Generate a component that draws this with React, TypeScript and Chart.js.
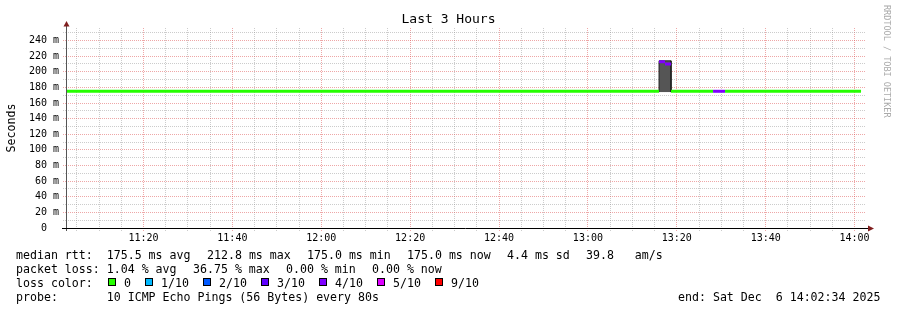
import React, { useEffect, useRef } from "react";
import { Chart, registerables } from "chart.js";

Chart.register(...registerables);

// ---------- texts ----------
const chartTitle = "Last 3 Hours";
const yAxisTitle = "Seconds";
const watermark = "RRDTOOL / TOBI OETIKER";
const legendRttItems = ["median rtt:  175.5 ms avg", "212.8 ms max", "175.0 ms min", "175.0 ms now", "4.4 ms sd", "39.8   am/s"];
const legendLossItems = ["packet loss: 1.04 % avg", "36.75 % max", "0.00 % min", "0.00 % now"];
const legendLossColor = "loss color:";
const legendProbeItems = ["probe:       10 ICMP Echo Pings (56 Bytes) every 80s"];
const legendEnd = "end: Sat Dec  6 14:02:34 2025";

// ---------- axes ----------
const viewStart = "11:02:34";
const viewEnd = "14:02:34";
const yMin = 0;
const yMax = 256; // ms
const yGridStep = 10;
const yLabelStep = 20;
const xGridStepMin = 5;
const xLabelStepMin = 20;

// ---------- loss colours ----------
const lossLabels = ["0", "1/10", "2/10", "3/10", "4/10", "5/10", "9/10"];
const lossColors = ["#26ff00", "#00b8ff", "#0059ff", "#5e00ff", "#7e00ff", "#dd00ff", "#ff0000"];

// ---------- median rtt runs (start time, median ms, loss bin index) ----------
const runStart = ["11:02:34", "13:16:00", "13:17:21", "13:18:42", "13:28:09", "13:30:51"];
const runLastEnd = "14:01:27";
const runMedian = [175.0, 212.8, 209.9, 175.0, 175.0, 175.0];
const runLossBin = [0, 4, 4, 0, 4, 0];

// ---------- smoke (ping spread) ----------
const smokeStart = ["13:16:00", "13:17:21"];
const smokeLastEnd = "13:18:42";
const smokeLow = [174.0, 174.0];
const smokeHigh = [214.0, 214.0];

function toMin(s: string): number {
  const [h, m, sec] = s.split(":").map(Number);
  return h * 60 + m + (sec || 0) / 60;
}
function fmtHM(v: number): string {
  const h = Math.floor(v / 60);
  const m = Math.round(v - h * 60);
  return `${String(h).padStart(2, "0")}:${String(m).padStart(2, "0")}`;
}

const MONO = '"DejaVu Sans Mono", monospace';
const GRID_MINOR = "rgba(143,143,143,0.45)";
const GRID_MAJOR = "rgba(222,79,79,0.5)";
const ARROW = "rgb(128,31,31)";
const CHAR_W = 7;
const ITEM_GAP = 16;

const decorPlugin = {
  id: "rrdDecor",
  afterDraw(chart: any) {
    const ctx = chart.ctx as CanvasRenderingContext2D;
    const a = chart.chartArea;
    ctx.save();
    ctx.strokeStyle = "#555";
    ctx.lineWidth = 1;
    ctx.beginPath();
    ctx.moveTo(a.left + 0.5, a.bottom + 3);
    ctx.lineTo(a.left + 0.5, a.top - 2);
    ctx.stroke();
    ctx.strokeStyle = "#000";
    ctx.beginPath();
    ctx.moveTo(a.left - 4, a.bottom + 0.5);
    ctx.lineTo(a.right + 3, a.bottom + 0.5);
    ctx.stroke();
    ctx.fillStyle = ARROW;
    ctx.beginPath();
    ctx.moveTo(a.left - 2.5, a.top - 1.5);
    ctx.lineTo(a.left + 3.5, a.top - 1.5);
    ctx.lineTo(a.left + 0.5, a.top - 7);
    ctx.closePath();
    ctx.fill();
    ctx.beginPath();
    ctx.moveTo(a.right + 2, a.bottom - 2.5);
    ctx.lineTo(a.right + 2, a.bottom + 3.5);
    ctx.lineTo(a.right + 8, a.bottom + 0.5);
    ctx.closePath();
    ctx.fill();
    ctx.fillStyle = "#000";
    ctx.font = `13px ${MONO}`;
    ctx.textAlign = "center";
    ctx.textBaseline = "alphabetic";
    ctx.fillText(chartTitle, chart.width / 2, 23);
    ctx.save();
    ctx.translate(15, (a.top + a.bottom) / 2);
    ctx.rotate(-Math.PI / 2);
    ctx.font = `11.6px ${MONO}`;
    ctx.textAlign = "center";
    ctx.fillText(yAxisTitle, 0, 0);
    ctx.restore();
    ctx.save();
    ctx.translate(884, 5);
    ctx.rotate(Math.PI / 2);
    ctx.font = `8.5px ${MONO}`;
    ctx.fillStyle = "#aaaaaa";
    ctx.textAlign = "left";
    ctx.fillText(watermark, 0, 0);
    ctx.restore();
    ctx.restore();
  },
};

function itemLefts(items: string[], start: number): number[] {
  const out: number[] = [];
  let x = start;
  for (const it of items) {
    out.push(x);
    x += it.length * CHAR_W + ITEM_GAP;
  }
  return out;
}

export default function App() {
  const ref = useRef<HTMLCanvasElement | null>(null);

  useEffect(() => {
    if (!ref.current) return;
    const xMin = toMin(viewStart);
    const xMax = toMin(viewEnd);

    const medianData: any[] = [];
    for (let i = 0; i < runStart.length; i++) {
      const t0 = toMin(runStart[i]);
      const t1 = i + 1 < runStart.length ? toMin(runStart[i + 1]) : toMin(runLastEnd);
      medianData.push({ x: t0, y: runMedian[i] }, { x: t1, y: runMedian[i] }, { x: t1, y: null });
    }

    const smokeData: any[] = [];
    for (let i = 0; i < smokeStart.length; i++) {
      const t0 = toMin(smokeStart[i]);
      const t1 = i + 1 < smokeStart.length ? toMin(smokeStart[i + 1]) : toMin(smokeLastEnd);
      if (i === 0) smokeData.push({ x: t0, y: smokeLow[i] });
      smokeData.push({ x: t0, y: smokeHigh[i] }, { x: t1, y: smokeHigh[i] });
      if (i === smokeStart.length - 1) smokeData.push({ x: t1, y: smokeLow[i] });
    }

    const chart = new Chart(ref.current, {
      type: "line",
      data: {
        datasets: [
          {
            label: "median",
            data: medianData,
            borderWidth: 3,
            borderCapStyle: "butt",
            pointRadius: 0,
            spanGaps: false,
            tension: 0,
            fill: false,
            borderColor: lossColors[0],
            segment: {
              borderColor: (c: any) => lossColors[runLossBin[Math.floor(c.p0DataIndex / 3)]],
            },
          } as any,
          {
            label: "smoke",
            data: smokeData,
            borderWidth: 1,
            borderColor: "#222222",
            backgroundColor: "#555555",
            pointRadius: 0,
            tension: 0,
            fill: { value: Math.min(...smokeLow) },
          } as any,
        ],
      },
      options: {
        animation: false,
        responsive: false,
        devicePixelRatio: 1,
        events: [],
        layout: { autoPadding: false, padding: { left: 0, right: 31, top: 28, bottom: 62 } },
        plugins: { legend: { display: false }, tooltip: { enabled: false }, title: { display: false } },
        scales: {
          x: {
            type: "linear",
            min: xMin,
            max: xMax,
            afterFit: (s: any) => {
              s.height = 20;
            },
            afterBuildTicks: (s: any) => {
              const t: any[] = [];
              for (let v = Math.ceil(xMin / xGridStepMin) * xGridStepMin; v <= xMax; v += xGridStepMin) t.push({ value: v });
              s.ticks = t;
            },
            ticks: {
              autoSkip: false,
              maxRotation: 0,
              padding: 1,
              color: "#000",
              font: { family: MONO, size: 10 },
              callback: (v: any) => (Math.round(v) % xLabelStepMin === 0 ? fmtHM(v) : ""),
            },
            grid: {
              drawTicks: true,
              tickLength: 3,
              color: (c: any) => (c.tick && Math.round(c.tick.value) % xLabelStepMin === 0 ? GRID_MAJOR : GRID_MINOR),
              tickColor: (c: any) => (c.tick && Math.round(c.tick.value) % xLabelStepMin === 0 ? GRID_MAJOR : GRID_MINOR),
              tickBorderDash: [1, 1],
            },
            border: { display: false, dash: [1, 1] },
          },
          y: {
            type: "linear",
            min: yMin,
            max: yMax,
            afterFit: (s: any) => {
              s.width = 66;
            },
            afterBuildTicks: (s: any) => {
              const t: any[] = [];
              for (let v = yMin; v <= yMax; v += yGridStep) t.push({ value: v });
              s.ticks = t;
            },
            ticks: {
              autoSkip: false,
              padding: 4,
              color: "#000",
              font: { family: MONO, size: 10 },
              callback: (v: any) => (v % yLabelStep === 0 ? (v === 0 ? "0  " : `${v} m`) : ""),
            },
            grid: {
              drawTicks: true,
              tickLength: 3,
              color: (c: any) => (c.tick && c.tick.value % yLabelStep === 0 ? GRID_MAJOR : GRID_MINOR),
              tickColor: (c: any) => (c.tick && c.tick.value % yLabelStep === 0 ? GRID_MAJOR : GRID_MINOR),
              tickBorderDash: [1, 1],
            },
            border: { display: false, dash: [1, 1] },
          },
        },
      } as any,
      plugins: [decorPlugin],
    });
    return () => chart.destroy();
  }, []);

  const swatchLefts: number[] = [];
  let s = 108;
  for (let i = 0; i < lossLabels.length; i++) {
    swatchLefts.push(s);
    s = s + 16 + lossLabels[i].length * CHAR_W + 14;
  }

  const rttLefts = itemLefts(legendRttItems, 16);
  const lossLefts = itemLefts(legendLossItems, 16);
  const probeLefts = itemLefts(legendProbeItems, 16);

  const textStyle: React.CSSProperties = {
    position: "absolute",
    font: `11.6px ${MONO}`,
    lineHeight: "14px",
    whiteSpace: "pre",
    color: "#000",
  };

  return (
    <div style={{ position: "fixed", left: 0, top: 0, width: 897, height: 310, background: "#fff", overflow: "hidden" }}>
      <canvas ref={ref} width={897} height={310} style={{ position: "absolute", left: 0, top: 0, width: 897, height: 310 }} />
      {legendRttItems.map((t, i) => (
        <div key={"r" + i} style={{ ...textStyle, left: rttLefts[i], top: 248 }}>{t}</div>
      ))}
      {legendLossItems.map((t, i) => (
        <div key={"l" + i} style={{ ...textStyle, left: lossLefts[i], top: 262 }}>{t}</div>
      ))}
      <div style={{ ...textStyle, left: 16, top: 276 }}>{legendLossColor}</div>
      {lossLabels.map((lab, i) => (
        <React.Fragment key={lab}>
          <div
            style={{
              position: "absolute",
              left: swatchLefts[i],
              top: 278,
              width: 8,
              height: 8,
              boxSizing: "border-box",
              border: "1px solid #000",
              background: lossColors[i],
            }}
          />
          <div style={{ ...textStyle, left: swatchLefts[i] + 16, top: 276 }}>{lab}</div>
        </React.Fragment>
      ))}
      {legendProbeItems.map((t, i) => (
        <div key={"p" + i} style={{ ...textStyle, left: probeLefts[i], top: 290 }}>{t}</div>
      ))}
      <div style={{ ...textStyle, left: 678, top: 290 }}>{legendEnd}</div>
    </div>
  );
}
